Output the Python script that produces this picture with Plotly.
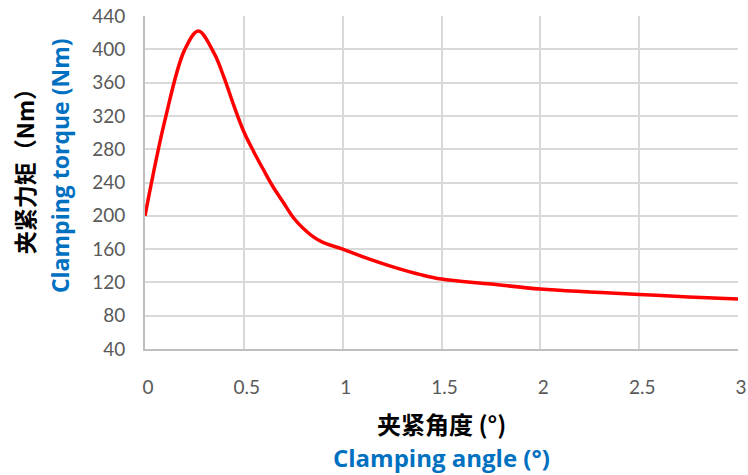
import plotly.graph_objects as go

# Data
angle_deg = [0, 0.1, 0.2, 0.27, 0.35, 0.4, 0.45, 0.5, 0.55, 0.6, 0.65,
             0.7, 0.75, 0.8, 0.85, 0.9, 1.0, 1.1, 1.25, 1.4, 1.5, 1.75, 2.0, 2.25, 2.5, 2.75, 3.0]
torque_nm = [200, 314, 399, 422, 395, 366, 332, 301, 277, 255, 234,
             216, 198, 185, 175, 168, 160, 151, 139, 129, 124, 118, 112, 108.5, 105.5, 102.5, 100]

x_ticks = [0, 0.5, 1, 1.5, 2, 2.5, 3]
x_tick_labels = ["0", "0.5", "1", "1.5", "2", "2.5", "3"]
y_ticks = [40, 80, 120, 160, 200, 240, 280, 320, 360, 400, 440]

y_title_cn = "夹紧力矩（Nm）"
y_title_en = "Clamping torque (Nm)"
x_title_cn = "夹紧角度 (°)"
x_title_en = "Clamping angle (°)"

fig = go.Figure()
fig.add_trace(go.Scatter(
    x=angle_deg, y=torque_nm, mode="lines",
    line=dict(color="#FF0000", width=3.5, shape="spline", smoothing=1),
    showlegend=False, cliponaxis=False,
))

tick_font = dict(family="Lato, 'Open Sans', sans-serif", size=19, color="#595959")

fig.update_layout(
    width=748, height=475,
    margin=dict(l=145, r=10, t=16, b=126, autoexpand=False),
    paper_bgcolor="white", plot_bgcolor="white",
    xaxis=dict(
        range=[0, 3], tickvals=x_ticks, ticktext=x_tick_labels,
        showgrid=True, gridcolor="#D9D9D9", gridwidth=1.5,
        showline=True, linecolor="#BFBFBF", linewidth=2,
        zeroline=False, ticks="", tickfont=tick_font,
        ticklabelstandoff=20, ticklabelshift=3,
        ticklabeloverflow="allow", automargin=False,
    ),
    yaxis=dict(
        range=[40, 440], tickvals=y_ticks,
        showgrid=True, gridcolor="#D9D9D9", gridwidth=1.5,
        showline=True, linecolor="#BFBFBF", linewidth=2,
        zeroline=False, ticks="", tickfont=tick_font,
        ticklabelstandoff=14, ticklabeloverflow="allow", automargin=False,
    ),
    annotations=[
        dict(text="<b>" + y_title_cn + "</b>", xref="paper", yref="paper",
             x=-0.205, y=0.55, showarrow=False, textangle=-90,
             font=dict(family="Noto Sans CJK SC", size=23, color="#000000"),
             xanchor="center", yanchor="middle"),
        dict(text="<b>" + y_title_en + "</b>", xref="paper", yref="paper",
             x=-0.143, y=0.55, showarrow=False, textangle=-90,
             font=dict(family="'Open Sans', sans-serif", size=23, color="#0070C0"),
             xanchor="center", yanchor="middle"),
        dict(text="<b>" + x_title_cn + "</b>", xref="paper", yref="paper",
             x=0.5, y=-0.225, showarrow=False,
             font=dict(family="Noto Sans CJK SC", size=24, color="#000000"),
             xanchor="center", yanchor="middle"),
        dict(text="<b>" + x_title_en + "</b>", xref="paper", yref="paper",
             x=0.5, y=-0.327, showarrow=False,
             font=dict(family="'Open Sans', sans-serif", size=24, color="#0070C0"),
             xanchor="center", yanchor="middle"),
    ],
)

fig.write_html(
    "out.html",
    config={"displayModeBar": False},
    post_script="document.body.style.margin='0';document.body.style.overflow='hidden';",
)
